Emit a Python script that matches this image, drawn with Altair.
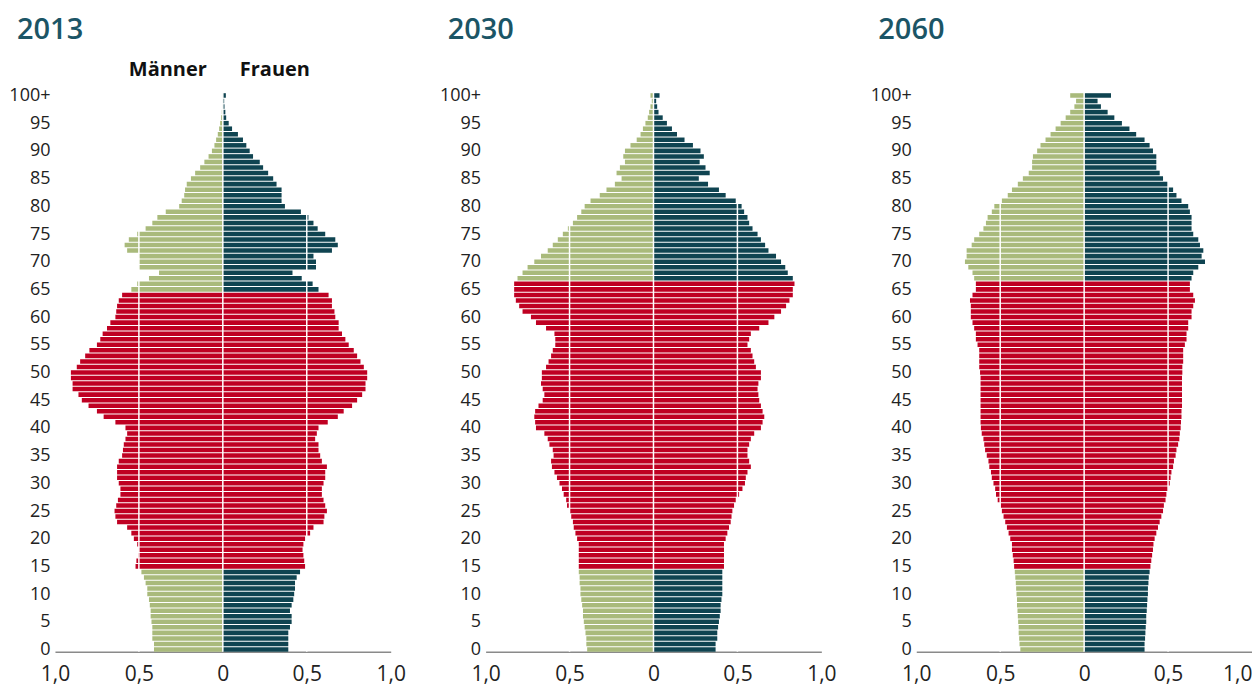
import altair as alt
import pandas as pd

AGES = list(range(101))
YEARS = ["2013", "2030", "2060"]
# first age (exclusive) that is no longer "working age"
WORK_END = {"2013": 65, "2030": 67, "2060": 67}

# ---- values (share of population), ages 0 .. 100+
M2013 = [0.41, 0.41, 0.42, 0.42, 0.42, 0.425, 0.43, 0.43, 0.435, 0.44,
         0.45, 0.45, 0.46, 0.47, 0.485, 0.52, 0.515, 0.505, 0.50, 0.51,
         0.53, 0.545, 0.57, 0.63, 0.64, 0.645, 0.635, 0.625, 0.61, 0.61,
         0.62, 0.63, 0.63, 0.63, 0.62, 0.60, 0.595, 0.59, 0.58, 0.57,
         0.58, 0.64, 0.71, 0.75, 0.80, 0.84, 0.86, 0.895, 0.895, 0.905,
         0.905, 0.87, 0.85, 0.82, 0.795, 0.75, 0.73, 0.716, 0.69, 0.67,
         0.64, 0.635, 0.63, 0.62, 0.60, 0.545, 0.51, 0.44, 0.38, 0.50,
         0.50, 0.50, 0.57, 0.585, 0.56, 0.51, 0.46, 0.42, 0.39, 0.34,
         0.26, 0.245, 0.23, 0.225, 0.215, 0.19, 0.165, 0.135, 0.11, 0.085,
         0.065, 0.05, 0.04, 0.03, 0.022, 0.016, 0.01, 0.006, 0.004, 0.003,
         0.003]
F2013 = [0.39, 0.39, 0.39, 0.39, 0.40, 0.41, 0.41, 0.40, 0.41, 0.42,
         0.425, 0.43, 0.43, 0.44, 0.46, 0.49, 0.485, 0.48, 0.475, 0.48,
         0.49, 0.52, 0.54, 0.60, 0.605, 0.62, 0.61, 0.60, 0.59, 0.59,
         0.60, 0.61, 0.61, 0.62, 0.59, 0.58, 0.57, 0.57, 0.55, 0.56,
         0.57, 0.625, 0.685, 0.72, 0.77, 0.80, 0.83, 0.85, 0.85, 0.86,
         0.86, 0.84, 0.82, 0.80, 0.78, 0.75, 0.73, 0.71, 0.69, 0.69,
         0.67, 0.665, 0.65, 0.65, 0.63, 0.57, 0.535, 0.47, 0.415, 0.555,
         0.555, 0.54, 0.65, 0.685, 0.67, 0.61, 0.565, 0.54, 0.51, 0.465,
         0.37, 0.35, 0.35, 0.35, 0.32, 0.30, 0.27, 0.24, 0.22, 0.18,
         0.16, 0.14, 0.12, 0.09, 0.055, 0.035, 0.02, 0.015, 0.01, 0.008,
         0.018]
M2030 = [0.395, 0.40, 0.40, 0.405, 0.41, 0.415, 0.42, 0.42, 0.425, 0.43,
         0.435, 0.435, 0.44, 0.44, 0.445, 0.445, 0.445, 0.445, 0.445, 0.445,
         0.455, 0.465, 0.475, 0.48, 0.49, 0.50, 0.515, 0.52, 0.535, 0.545,
         0.56, 0.575, 0.59, 0.605, 0.61, 0.595, 0.60, 0.62, 0.63, 0.65,
         0.70, 0.705, 0.71, 0.705, 0.685, 0.66, 0.65, 0.66, 0.67, 0.665,
         0.665, 0.64, 0.625, 0.61, 0.60, 0.585, 0.585, 0.59, 0.64, 0.70,
         0.73, 0.78, 0.80, 0.82, 0.83, 0.83, 0.83, 0.81, 0.78, 0.75,
         0.71, 0.67, 0.63, 0.60, 0.57, 0.54, 0.51, 0.48, 0.455, 0.43,
         0.41, 0.375, 0.32, 0.28, 0.23, 0.19, 0.22, 0.20, 0.17, 0.18,
         0.17, 0.137, 0.10, 0.077, 0.063, 0.048, 0.034, 0.026, 0.018, 0.01,
         0.018]
F2030 = [0.37, 0.37, 0.38, 0.38, 0.385, 0.39, 0.395, 0.40, 0.40, 0.405,
         0.41, 0.41, 0.41, 0.41, 0.41, 0.42, 0.42, 0.42, 0.42, 0.42,
         0.43, 0.44, 0.45, 0.46, 0.465, 0.47, 0.48, 0.49, 0.51, 0.53,
         0.545, 0.55, 0.56, 0.58, 0.57, 0.56, 0.56, 0.57, 0.58, 0.60,
         0.64, 0.65, 0.66, 0.65, 0.64, 0.63, 0.625, 0.62, 0.625, 0.64,
         0.64, 0.61, 0.60, 0.59, 0.58, 0.56, 0.57, 0.58, 0.63, 0.685,
         0.72, 0.76, 0.79, 0.81, 0.83, 0.83, 0.84, 0.83, 0.80, 0.785,
         0.76, 0.73, 0.685, 0.665, 0.64, 0.62, 0.59, 0.57, 0.56, 0.54,
         0.525, 0.49, 0.43, 0.39, 0.325, 0.27, 0.335, 0.31, 0.275, 0.30,
         0.28, 0.235, 0.185, 0.14, 0.11, 0.08, 0.055, 0.03, 0.022, 0.016,
         0.036]
M2060 = [0.38, 0.385, 0.387, 0.39, 0.39, 0.393, 0.395, 0.397, 0.40, 0.40,
         0.403, 0.405, 0.407, 0.41, 0.413, 0.417, 0.42, 0.425, 0.43, 0.43,
         0.44, 0.45, 0.46, 0.47, 0.48, 0.49, 0.50, 0.515, 0.525, 0.53,
         0.54, 0.55, 0.555, 0.565, 0.57, 0.58, 0.59, 0.595, 0.60, 0.61,
         0.615, 0.617, 0.617, 0.617, 0.617, 0.617, 0.617, 0.617, 0.617, 0.617,
         0.62, 0.625, 0.625, 0.625, 0.625, 0.635, 0.645, 0.645, 0.655, 0.665,
         0.675, 0.675, 0.675, 0.68, 0.665, 0.645, 0.645, 0.655, 0.665, 0.69,
         0.71, 0.70, 0.70, 0.67, 0.655, 0.625, 0.60, 0.585, 0.575, 0.55,
         0.535, 0.49, 0.455, 0.43, 0.395, 0.365, 0.33, 0.31, 0.31, 0.305,
         0.28, 0.26, 0.23, 0.20, 0.17, 0.14, 0.11, 0.083, 0.058, 0.048,
         0.083]
F2060 = [0.36, 0.36, 0.363, 0.365, 0.367, 0.37, 0.37, 0.373, 0.375, 0.377,
         0.38, 0.38, 0.383, 0.385, 0.39, 0.395, 0.40, 0.405, 0.41, 0.413,
         0.42, 0.43, 0.44, 0.45, 0.46, 0.47, 0.475, 0.485, 0.49, 0.50,
         0.51, 0.515, 0.52, 0.53, 0.535, 0.545, 0.55, 0.56, 0.567, 0.57,
         0.575, 0.577, 0.58, 0.58, 0.583, 0.583, 0.583, 0.583, 0.583, 0.583,
         0.585, 0.585, 0.59, 0.59, 0.59, 0.60, 0.61, 0.61, 0.62, 0.62,
         0.64, 0.64, 0.65, 0.66, 0.65, 0.63, 0.63, 0.64, 0.65, 0.68,
         0.72, 0.70, 0.71, 0.69, 0.68, 0.65, 0.64, 0.64, 0.64, 0.63,
         0.62, 0.58, 0.55, 0.53, 0.50, 0.47, 0.45, 0.43, 0.43, 0.43,
         0.41, 0.39, 0.36, 0.31, 0.27, 0.225, 0.18, 0.14, 0.10, 0.08,
         0.16]

MEN = {"2013": M2013, "2030": M2030, "2060": M2060}
WOMEN = {"2013": F2013, "2030": F2030, "2060": F2060}
for s in list(MEN.values()) + list(WOMEN.values()):
    assert len(s) == 101

X_TICKS = [-1.0, -0.5, 0.0, 0.5, 1.0]
GRID = [-0.5, 0.0, 0.5]
Y_TICKS = [a + 0.4 for a in range(0, 101, 5)]

GREEN = "#a9ba7b"
DARK = "#0f4451"
RED = "#bf0022"
TEAL = "#1b5566"
FONT = "Open Sans"

PW, PH = 336, 560

x_scale = alt.Scale(domain=[-1, 1], nice=False, zero=False)
y_scale = alt.Scale(domain=[0, 101], nice=False, zero=False)
c_scale = alt.Scale(domain=["Männer", "Erwerb", "Frauen"], range=[GREEN, RED, DARK])


def x_axis(last=False):
    kw = dict(
        values=X_TICKS,
        labelExpr="datum.value == 0 ? '0' : replace(format(abs(datum.value), '.1f'), '.', ',')",
        title=None, grid=False, ticks=False, domain=True,
        domainColor="#8a8a8a", domainWidth=1.5,
        labelFont=FONT, labelFontSize=21, labelColor="#222222",
        labelPadding=12, labelFlush=False, labelOverlap=False,
    )
    if last:
        kw["labelAlign"] = {"condition": {"test": "datum.value == 1", "value": "right"},
                            "value": "center"}
    return alt.Axis(**kw)


y_axis = alt.Axis(
    values=Y_TICKS,
    labelExpr="floor(datum.value) == 100 ? '100+' : '' + floor(datum.value)",
    title=None, grid=False, ticks=False, domain=False,
    labelFont=FONT, labelFontSize=18, labelColor="#222222",
    labelPadding=5, labelOverlap=False,
)


def panel(year, idx):
    rows = []
    for a in AGES:
        working = 15 <= a < WORK_END[year]
        rows.append({"age": a, "top": a + 0.82, "value": -MEN[year][a], "zero": 0,
                     "grp": "Erwerb" if working else "Männer"})
        rows.append({"age": a, "top": a + 0.82, "value": WOMEN[year][a], "zero": 0,
                     "grp": "Erwerb" if working else "Frauen"})
    df = pd.DataFrame(rows)
    xa = x_axis(last=(idx == 2))

    bars = alt.Chart(df).mark_rect().encode(
        x=alt.X("value:Q", scale=x_scale, axis=xa),
        x2="zero:Q",
        y=alt.Y("age:Q", scale=y_scale, axis=y_axis),
        y2="top:Q",
        color=alt.Color("grp:N", scale=c_scale, legend=None),
    )
    rules = alt.Chart(pd.DataFrame({"g": GRID})).mark_rule(
        color="white", strokeWidth=1.5
    ).encode(
        x=alt.X("g:Q", scale=x_scale, axis=xa),
        y=alt.value(0), y2=alt.value(PH),
    )
    title = alt.Chart(pd.DataFrame({"t": [year]})).mark_text(
        align="left", baseline="alphabetic", font=FONT, fontSize=29,
        fontWeight=600, color=TEAL
    ).encode(text="t:N", x=alt.value(-38), y=alt.value(-53))
    layers = [bars, rules, title]
    if idx == 0:
        lab = pd.DataFrame({"t": ["Männer", "Frauen"], "pos": [0, 0]})
        men_t = alt.Chart(lab.iloc[[0]]).mark_text(
            align="right", baseline="alphabetic", dx=-16, font=FONT,
            fontSize=20, fontWeight="bold", color="#111111"
        ).encode(text="t:N", x=alt.X("pos:Q", scale=x_scale, axis=xa), y=alt.value(-16))
        wom_t = alt.Chart(lab.iloc[[1]]).mark_text(
            align="left", baseline="alphabetic", dx=17, font=FONT,
            fontSize=20, fontWeight="bold", color="#111111"
        ).encode(text="t:N", x=alt.X("pos:Q", scale=x_scale, axis=xa), y=alt.value(-16))
        layers += [men_t, wom_t]
    return alt.layer(*layers).properties(width=PW, height=PH)


chart = alt.hconcat(
    *[panel(y, i) for i, y in enumerate(YEARS)],
    spacing=95, bounds="flush",
).properties(
    padding={"left": 0, "top": 8, "right": 0, "bottom": 3}
).configure_view(stroke=None)

chart.save("out.html", embed_options={"renderer": "svg", "actions": False})
